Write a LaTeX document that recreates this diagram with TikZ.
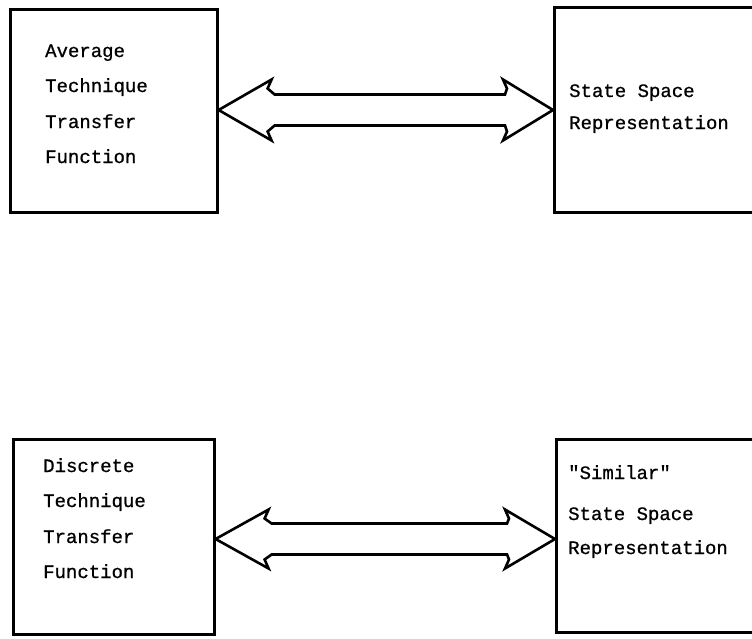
\documentclass[tikz,border=0pt]{standalone}
\usepackage{fontspec}
\newfontfamily\tw[FakeBold=0.8]{Liberation Mono}
\usetikzlibrary{calc}
\tikzset{
  box/.style={draw=black, line width=2.6pt, rectangle, inner sep=0pt, anchor=north west},
  txt/.style={anchor=base west, inner sep=0pt, font=\tw\fontsize{19}{21}\selectfont, text=black},
  dbl/.style={draw=black, line width=2.6pt, line join=miter, fill=none},
}
\newcommand{\dblarrow}[4]{% left tip, right tip, shaft half, barb half
  \draw[dbl] (#1) -- ($(#1)+(53,-#4)$) -- ($(#1)+(49,-#4+9)$) -- ($(#1)+(56,-#3)$)
    -- ($(#2)+(-48,-#3)$) -- ($(#2)+(-46,-#4+9)$) -- ($(#2)+(-50,-#4)$) -- (#2)
    -- ($(#2)+(-50,#4)$) -- ($(#2)+(-46,#4-9)$) -- ($(#2)+(-48,#3)$)
    -- ($(#1)+(56,#3)$) -- ($(#1)+(49,#4-9)$) -- ($(#1)+(53,#4)$) -- cycle;}
\begin{document}
\begin{tikzpicture}[x=1pt, y=-1pt]
\useasboundingbox (0,0) rectangle (752,638);
\clip (0,0) rectangle (752,638);
% boxes
\node[box, minimum width=207pt, minimum height=203pt] (A) at (9,8) {};
\node[box, minimum width=230pt, minimum height=205pt] (B) at (553,6) {};
\node[box, minimum width=201pt, minimum height=195pt] (C) at (12,438) {};
\node[box, minimum width=230pt, minimum height=193pt] (D) at (555,438) {};
% texts
\node[txt] (a1) at (45,57) {Average};
\node[txt] (a2) at (45,92) {Technique};
\node[txt] (a3) at (45,128) {Transfer};
\node[txt] (a4) at (45,163) {Function};
\node[txt] (b1) at (569,97) {State Space};
\node[txt] (b2) at (569,129) {Representation};
\node[txt] (c1) at (43,472) {Discrete};
\node[txt] (c2) at (43,507) {Technique};
\node[txt] (c3) at (43,543) {Transfer};
\node[txt] (c4) at (43,578) {Function};
\node[txt] (d1) at (568,479) {"Similar"};
\node[txt] (d2) at (568,520) {State Space};
\node[txt] (d3) at (568,554) {Representation};
% arrows
\coordinate (t1) at (A.east |- 0,110);
\coordinate (t2) at (B.west |- 0,110);
\dblarrow{t1}{t2}{15.5}{30.5}
\coordinate (u1) at (C.east |- 0,539);
\coordinate (u2) at (D.west |- 0,539);
\dblarrow{u1}{u2}{15.5}{29.5}
\end{tikzpicture}
\end{document}
